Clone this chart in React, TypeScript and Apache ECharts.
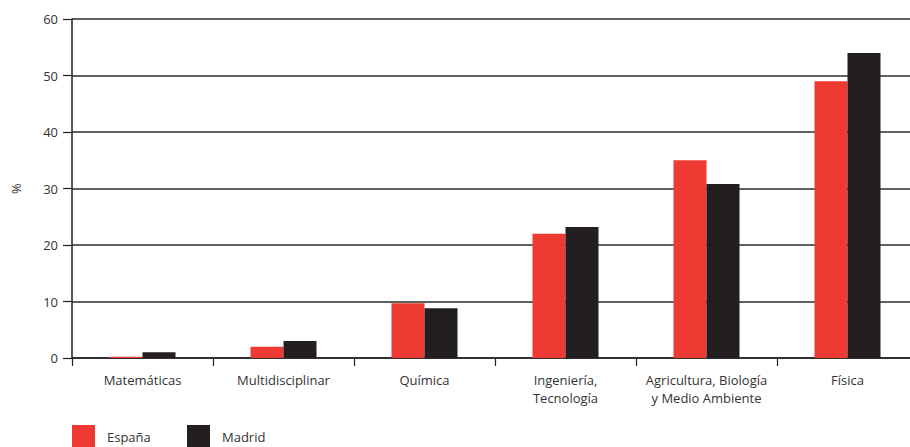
import React, { useEffect, useRef } from "react";
import * as echarts from "echarts";

const categories = [
  "Matemáticas",
  "Multidisciplinar",
  "Química",
  "Ingeniería,\nTecnología",
  "Agricultura, Biología\ny Medio Ambiente",
  "Física",
];
const espana = [0.2, 2.0, 9.7, 22.0, 35.0, 49.0];
const madrid = [1.0, 3.0, 8.8, 23.2, 30.8, 54.0];
const yTicks = { min: 0, max: 60, interval: 10 };

const FONT = "'Open Sans', 'DejaVu Sans', sans-serif";
const RED = "#EE3A32";
const BLACK = "#231F20";
const TEXT = "#333333";

export default function App() {
  const ref = useRef<HTMLDivElement>(null);
  useEffect(() => {
    if (!ref.current) return;
    const chart = echarts.init(ref.current, null, { renderer: "svg" });
    chart.setOption({
      animation: false,
      textStyle: { fontFamily: FONT },
      grid: {
        left: 72,
        top: 19,
        bottom: 89,
        width: 846,
        containLabel: false,
        outerBoundsMode: "none",
      },
      legend: [
        {
          data: ["España"],
          left: 72,
          top: 425,
          itemWidth: 23,
          itemHeight: 23,
          icon: "rect",
          textStyle: { fontFamily: FONT, fontSize: 13, color: TEXT, padding: [0, 0, 0, 7] },
          padding: 0,
        },
        {
          data: ["Madrid"],
          left: 187,
          top: 425,
          itemWidth: 23,
          itemHeight: 23,
          icon: "rect",
          textStyle: { fontFamily: FONT, fontSize: 13, color: TEXT, padding: [0, 0, 0, 7] },
          padding: 0,
        },
      ],
      xAxis: {
        type: "category",
        data: categories,
        axisLine: { show: true, lineStyle: { color: BLACK, width: 1.5 } },
        axisTick: { show: true, length: 8, lineStyle: { color: BLACK, width: 1.2 } },
        axisLabel: {
          margin: 13,
          fontFamily: FONT,
          fontSize: 13,
          color: TEXT,
          lineHeight: 18,
          interval: 0,
        },
      },
      yAxis: {
        type: "value",
        min: yTicks.min,
        max: yTicks.max,
        interval: yTicks.interval,
        name: "%",
        nameLocation: "middle",
        nameGap: 50,
        nameRotate: 90,
        nameTextStyle: { fontFamily: FONT, fontSize: 13, color: TEXT },
        axisLine: { show: true, lineStyle: { color: BLACK, width: 1.5 } },
        axisTick: { show: true, length: 9, lineStyle: { color: BLACK, width: 1.2 } },
        axisLabel: { margin: 14, fontFamily: FONT, fontSize: 13, color: TEXT },
        splitLine: { show: true, lineStyle: { color: "#2b2b2b", width: 1.5 } },
      },
      series: [
        {
          name: "España",
          type: "bar",
          data: espana,
          barWidth: 33,
          barGap: "0%",
          itemStyle: { color: RED },
        },
        {
          name: "Madrid",
          type: "bar",
          data: madrid,
          barWidth: 33,
          barGap: "0%",
          itemStyle: { color: BLACK },
        },
      ],
    });
    return () => chart.dispose();
  }, []);
  return (
    <div
      ref={ref}
      style={{ position: "fixed", left: 0, top: 0, width: 910, height: 447, background: "#fff" }}
    />
  );
}
